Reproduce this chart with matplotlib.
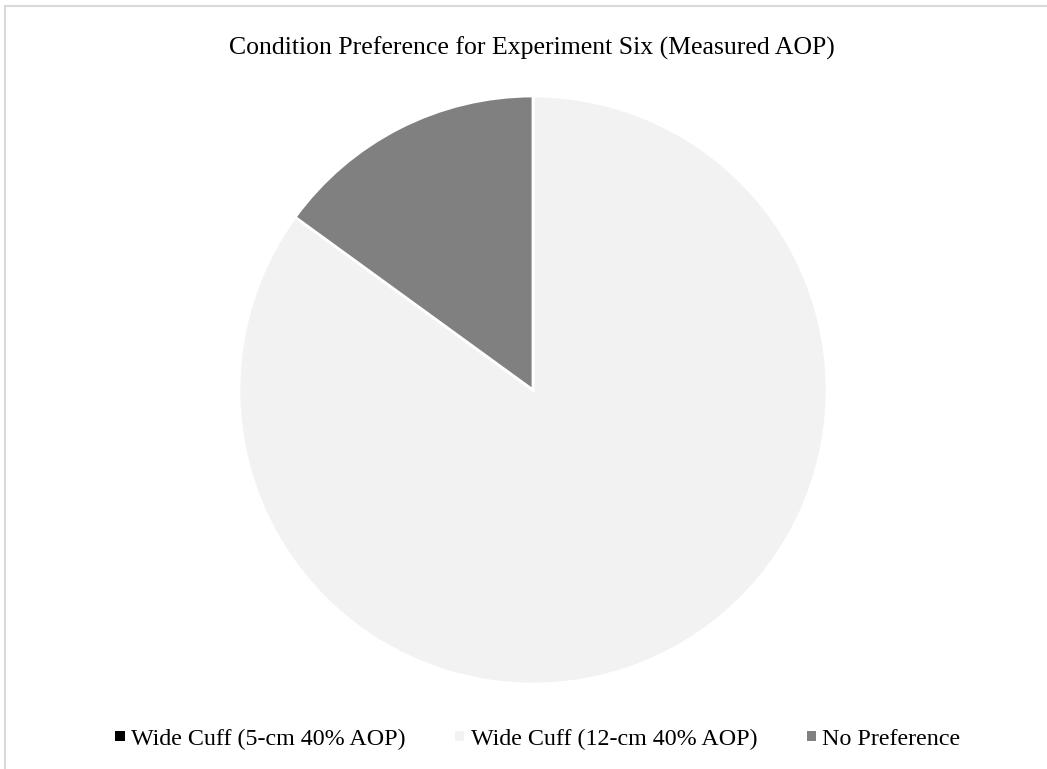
import matplotlib.pyplot as plt
from matplotlib.lines import Line2D
from matplotlib.patches import Patch

plt.rcParams['font.family'] = ['Liberation Serif', 'DejaVu Serif']

# participant counts per preferred condition
labels = ['Wide Cuff (5-cm 40% AOP)', 'Wide Cuff (12-cm 40% AOP)', 'No Preference']
counts = [0, 17, 3]
colors = ['#000000', '#F2F2F2', '#808080']

fig = plt.figure(figsize=(10.47, 7.69), dpi=100)

# chart area frame (only top and left edges fall inside the figure)
fig.add_artist(Line2D([4.5 / 1047, 1], [1 - 5.5 / 769, 1 - 5.5 / 769],
                      transform=fig.transFigure, color='#D9D9D9', lw=1.5))
fig.add_artist(Line2D([4.5 / 1047, 4.5 / 1047], [0, 1 - 5.5 / 769],
                      transform=fig.transFigure, color='#D9D9D9', lw=1.5))

ax = fig.add_axes([(533 - 294) / 1047, 1 - (390 + 294) / 769, 588 / 1047, 588 / 769])
ax.pie(counts, colors=colors, startangle=90, counterclock=False,
       wedgeprops=dict(edgecolor='white', linewidth=2))
ax.set_aspect('equal')
ax.set_xlim(-1, 1)
ax.set_ylim(-1, 1)

fig.text(532 / 1047, 1 - 48 / 769, 'Condition Preference for Experiment Six (Measured AOP)',
         ha='center', va='center', fontsize=18.5, color='#000000')

handles = [Patch(facecolor=c, edgecolor='none') for c in colors]
fig.legend(handles, labels, loc='center', bbox_to_anchor=(538 / 1047, 1 - 739 / 769),
           ncol=3, frameon=False, fontsize=17.3, handlelength=0.38, handleheight=0.25,
           handletextpad=0.28, columnspacing=2.05, borderpad=0, borderaxespad=0)

fig.savefig('out.png', dpi=100, facecolor='white')
